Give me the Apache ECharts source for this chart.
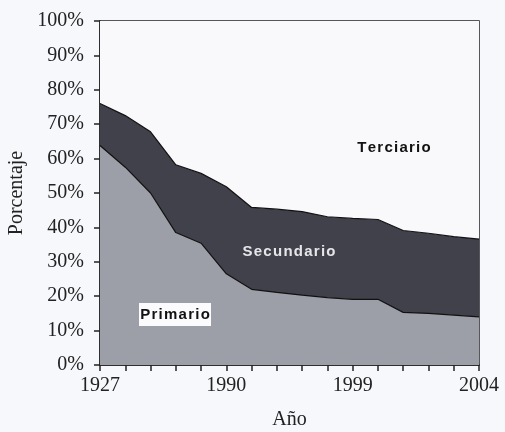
<!DOCTYPE html>
<html>
<head>
<meta charset="utf-8">
<script src="https://cdn.jsdelivr.net/npm/echarts@6/dist/echarts.min.js"></script>
<style>
  html, body { margin: 0; padding: 0; background: #f7f8fb; }
  #chart { width: 505px; height: 432px; }
</style>
</head>
<body>
<div id="chart"></div>
<script>
// categorias del eje x (solo algunas llevan rótulo)
var years = ['1927', 'a1', 'a2', 'a3', 'a4', '1990', 'a6', 'a7', 'a8', 'a9', '1999', 'a11', 'a12', 'a13', 'a14', '2004'];
var shownYears = ['1927', '1990', '1999', '2004'];

// porcentajes
var primario   = [63.8, 57.5, 50.0, 38.5, 35.4, 26.5, 22.0, 21.1, 20.3, 19.6, 19.1, 19.1, 15.3, 15.0, 14.5, 14.0];
var secundario = [12.2, 15.0, 17.8, 19.7, 20.3, 25.3, 23.8, 24.2, 24.3, 23.5, 23.5, 23.2, 23.8, 23.3, 22.8, 22.6];
var terciario  = primario.map(function (p, i) { return +(100 - p - secundario[i]).toFixed(1); });

var serif = '"Liberation Serif", "DejaVu Serif", serif';
var sans = '"Liberation Sans", Arial, sans-serif';

// espaciado entre letras de los rótulos
function spaced(s) { return s.split('').join('\u200A'); }

var chart = echarts.init(document.getElementById('chart'));
chart.setOption({
  animation: false,
  backgroundColor: '#f7f8fb',
  grid: {
    left: 100, right: 26, top: 21, bottom: 67,
    outerBoundsMode: 'none',
    containLabel: false,
    show: true,
    backgroundColor: '#f9f9fb',
    borderColor: '#222',
    borderWidth: 1.5
  },
  xAxis: {
    type: 'category',
    data: years,
    boundaryGap: false,
    name: 'Año',
    nameLocation: 'middle',
    nameGap: 45,
    nameTextStyle: { fontFamily: serif, fontSize: 20, color: '#222' },
    axisLine: { lineStyle: { color: '#222', width: 1.5 } },
    axisTick: { interval: 0, length: 6, lineStyle: { color: '#222', width: 1.5 } },
    axisLabel: {
      interval: function (idx, val) { return shownYears.indexOf(val) >= 0; },
      margin: 11,
      fontFamily: serif, fontSize: 20, color: '#222'
    },
    splitLine: { show: false }
  },
  yAxis: {
    type: 'value',
    min: 0, max: 100, interval: 10,
    name: 'Porcentaje',
    nameLocation: 'middle',
    nameGap: 70,
    nameRotate: 90,
    nameTextStyle: { fontFamily: serif, fontSize: 20, color: '#222' },
    axisLine: { show: true, lineStyle: { color: '#222', width: 1.5 } },
    axisTick: { show: true, length: 6, lineStyle: { color: '#222', width: 1.5 } },
    axisLabel: {
      formatter: '{value}%',
      margin: 16,
      fontFamily: serif, fontSize: 20, color: '#222'
    },
    splitLine: { show: false }
  },
  series: [
    {
      name: 'Primario', type: 'line', stack: 'total', data: primario,
      symbol: 'none',
      lineStyle: { color: '#111', width: 1.2 },
      areaStyle: { color: '#9c9ea8', opacity: 1 }
    },
    {
      name: 'Secundario', type: 'line', stack: 'total', data: secundario,
      symbol: 'none',
      lineStyle: { color: '#111', width: 1.2 },
      areaStyle: { color: '#40414b', opacity: 1 }
    },
    {
      name: 'Terciario', type: 'line', stack: 'total', data: terciario,
      symbol: 'none',
      lineStyle: { width: 0 },
      areaStyle: { color: '#f9f9fb', opacity: 1 }
    }
  ],
  graphic: [
    {
      type: 'rect', shape: { x: 139, y: 303, width: 72, height: 23 },
      style: { fill: '#fbfbfd' }, z: 100
    },
    {
      type: 'text', x: 175, y: 315, z: 101,
      style: {
        text: spaced('Primario'), fontFamily: sans, fontWeight: 'bold', fontSize: 15,
        fill: '#111', align: 'center', verticalAlign: 'middle'
      }
    },
    {
      type: 'text', x: 289, y: 252, z: 101,
      style: {
        text: spaced('Secundario'), fontFamily: sans, fontWeight: 'bold', fontSize: 15,
        fill: '#e6e6ea', align: 'center', verticalAlign: 'middle'
      }
    },
    {
      type: 'text', x: 394, y: 148, z: 101,
      style: {
        text: spaced('Terciario'), fontFamily: sans, fontWeight: 'bold', fontSize: 15,
        fill: '#111', align: 'center', verticalAlign: 'middle'
      }
    }
  ]
});
</script>
</body>
</html>
